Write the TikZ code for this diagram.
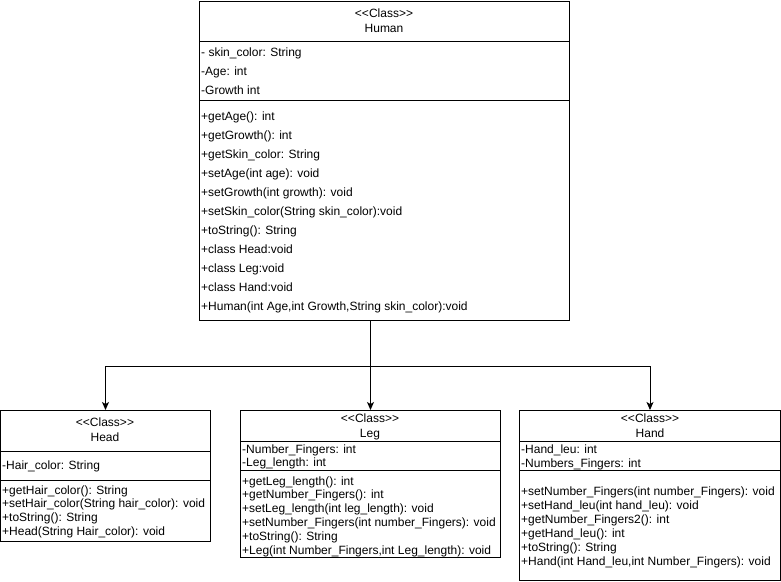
\documentclass[tikz,border=0pt]{standalone}
\usepackage{fontspec}
\setmainfont{Liberation Sans}
\usetikzlibrary{arrows.meta}
\newcommand\stereo{<\kern0pt<Class>\kern0pt>}
\begin{document}
\begin{tikzpicture}[x=1pt,y=-1pt,
  classbox/.style={draw, line width=1pt, inner sep=0pt, anchor=north west},
  sepline/.style={line width=1pt},
  txt/.style={anchor=base west, inner sep=0pt, font=\fontsize{12}{14}\selectfont},
  ctr/.style={anchor=base, inner sep=0pt, font=\fontsize{12}{14}\selectfont},
  arr/.style={line width=1pt, -{Stealth[length=8pt,width=7pt,inset=2pt]}}]
\useasboundingbox (0,0) rectangle (781,581);

% ---------- Human ----------
\node[classbox, minimum width=370pt, minimum height=319pt] (human) at (199,1) {};
\draw[sepline] (human.west |- 0,41) -- (human.east |- 0,41);
\draw[sepline] (human.west |- 0,100) -- (human.east |- 0,100);
\node[ctr] (humanst) at (384,17) {\stereo};
\node[ctr] (humanname) at (384,32) {Human};
\foreach \t [count=\i] in {{- skin\_color: String},{-Age: int},{-Growth int}}
  \node[txt] (ha\i) at ({201},{37+19*\i}) {\t};
\foreach \t [count=\i] in {{+getAge(): int},{+getGrowth(): int},{+getSkin\_color: String},
  {+setAge(int age): void},{+setGrowth(int growth): void},
  {+setSkin\_color(String skin\_color):void},{+toString(): String},
  {+class Head:void},{+class Leg:void},{+class Hand:void},
  {+Human(int Age,int Growth,String skin\_color):void}}
  \node[txt] (hm\i) at ({201},{101+19*\i}) {\t};

% ---------- Head ----------
\node[classbox, minimum width=210pt, minimum height=131pt] (head) at (0,410) {};
\draw[sepline] (head.west |- 0,451) -- (head.east |- 0,451);
\draw[sepline] (head.west |- 0,480) -- (head.east |- 0,480);
\node[ctr] (headst) at (105,426) {\stereo};
\node[ctr] (headname) at (105,441) {Head};
\node[txt] (hda1) at (2,469) {-Hair\_color: String};
\foreach \t [count=\i] in {{+getHair\_color(): String},{+setHair\_color(String hair\_color): void},
  {+toString(): String},{+Head(String Hair\_color): void}}
  \node[txt] (hdm\i) at ({2},{480.3+13.7*\i}) {\t};

% ---------- Leg ----------
\node[classbox, minimum width=260pt, minimum height=147pt] (leg) at (240,410) {};
\draw[sepline] (leg.west |- 0,441) -- (leg.east |- 0,441);
\draw[sepline] (leg.west |- 0,470) -- (leg.east |- 0,470);
\node[ctr] (legst) at (370,422) {\stereo};
\node[ctr] (legname) at (370,437) {Leg};
\foreach \t [count=\i] in {{-Number\_Fingers: int},{-Leg\_length: int}}
  \node[txt] (la\i) at ({242},{439.5+13.5*\i}) {\t};
\foreach \t [count=\i] in {{+getLeg\_length(): int},{+getNumber\_Fingers(): int},
  {+setLeg\_length(int leg\_length): void},{+setNumber\_Fingers(int number\_Fingers): void},
  {+toString(): String},{+Leg(int Number\_Fingers,int Leg\_length): void}}
  \node[txt] (lm\i) at ({242},{471.2+13.8*\i}) {\t};

% ---------- Hand ----------
\node[classbox, minimum width=261pt, minimum height=170pt] (hand) at (519,410) {};
\draw[sepline] (hand.west |- 0,441) -- (hand.east |- 0,441);
\draw[sepline] (hand.west |- 0,470) -- (hand.east |- 0,470);
\node[ctr] (handst) at (650,422) {\stereo};
\node[ctr] (handname) at (650,437) {Hand};
\foreach \t [count=\i] in {{-Hand\_leu: int},{-Numbers\_Fingers: int}}
  \node[txt] (na\i) at ({521},{439.5+13.8*\i}) {\t};
\foreach \t [count=\i] in {{+setNumber\_Fingers(int number\_Fingers): void},
  {+setHand\_leu(int hand\_leu): void},{+getNumber\_Fingers2(): int},
  {+getHand\_leu(): int},{+toString(): String},
  {+Hand(int Hand\_leu,int Number\_Fingers): void}}
  \node[txt] (nm\i) at ({521},{481+14*\i}) {\t};

% ---------- connectors ----------
\coordinate (junc) at (leg.north |- 0,366);
\draw[arr] (human.south -| leg.north) -- (leg.north);
\draw[arr] (junc) -| (head.north);
\draw[arr] (junc) -| (hand.north);
\end{tikzpicture}
\end{document}
